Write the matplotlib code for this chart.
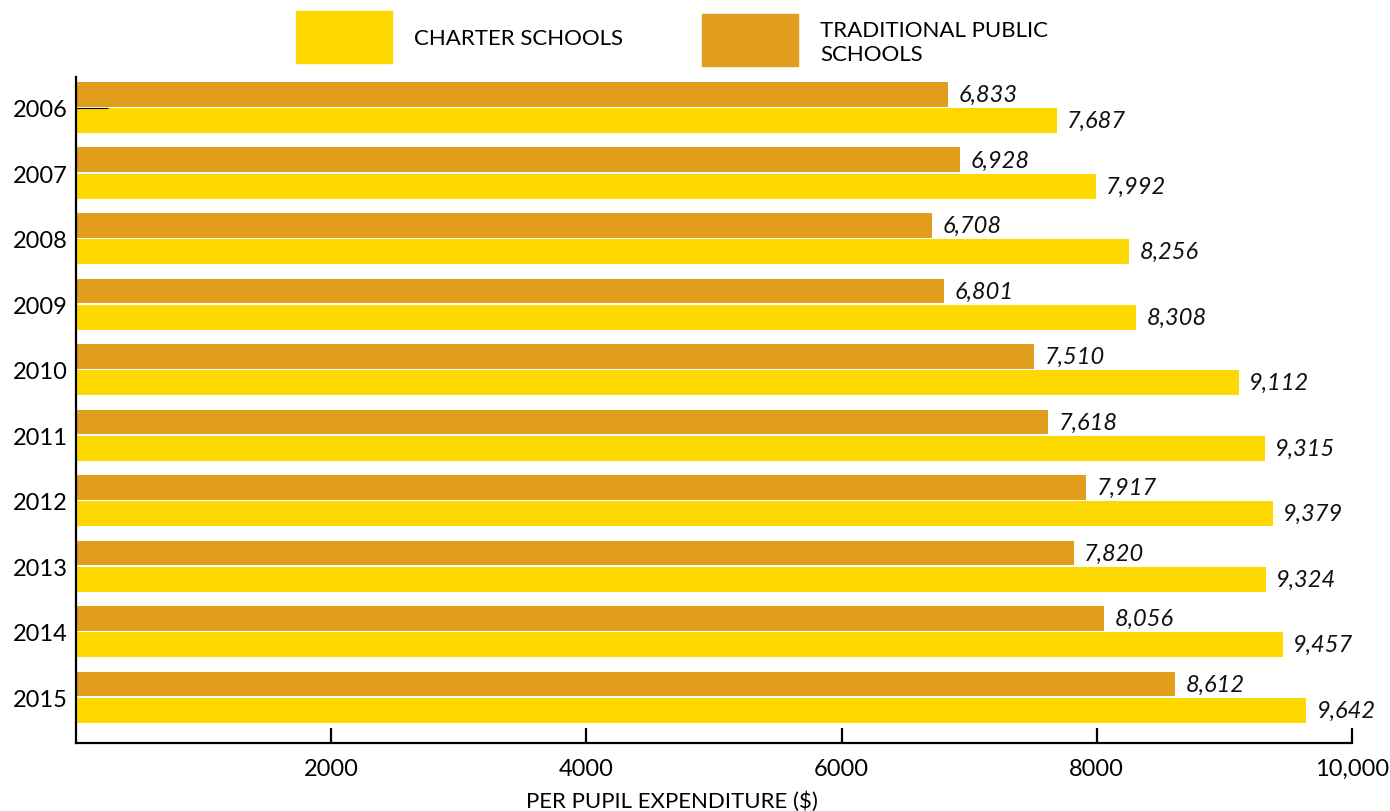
import matplotlib
matplotlib.use("Agg")
import matplotlib.pyplot as plt
from matplotlib.patches import Rectangle
import numpy as np

years = ["2006", "2007", "2008", "2009", "2010", "2011", "2012", "2013", "2014", "2015"]
charter = [7687, 7992, 8256, 8308, 9112, 9315, 9379, 9324, 9457, 9642]
traditional = [6833, 6928, 6708, 6801, 7510, 7618, 7917, 7820, 8056, 8612]
x_ticks = [2000, 4000, 6000, 8000, 10000]
x_tick_labels = ["2000", "4000", "6000", "8000", "10,000"]

YELLOW = "#FDD900"
GOLD = "#E09E1C"
FONT = "Lato"

plt.rcParams["font.family"] = [FONT, "DejaVu Sans"]

fig = plt.figure(figsize=(13.9, 8.12), dpi=100)
W, H = 1390, 812
ax = fig.add_axes([76 / W, 1 - 744 / H, (1352 - 76) / W, (744 - 78) / H])

idx = np.arange(len(years))
bh = 0.38
off = 0.2
ax.barh(idx - off, traditional, height=bh, color=GOLD, edgecolor="none", zorder=2)
ax.barh(idx + off, charter, height=bh, color=YELLOW, edgecolor="none", zorder=2)

for i, (t, c) in enumerate(zip(traditional, charter)):
    ax.annotate(f"{t:,}", (t, i - off), xytext=(7.5, 0), textcoords="offset points",
                ha="left", va="center", fontsize=17, style="italic", color="#111111")
    ax.annotate(f"{c:,}", (c, i + off), xytext=(7.5, 0), textcoords="offset points",
                ha="left", va="center", fontsize=17, style="italic", color="#111111")

# short tick line on the first category
ax.hlines(idx[0], 0, 250, color="black", linewidth=0.8, zorder=3)

ax.set_xlim(0, 10000)
ax.set_ylim(9.70, -0.466)
ax.set_yticks(idx)
ax.set_yticklabels(years, fontsize=17)
ax.set_xticks(x_ticks)
ax.set_xticklabels(x_tick_labels, fontsize=17)
ax.tick_params(axis="y", length=0, pad=6)
ax.tick_params(axis="x", direction="in", length=11, width=1.6, pad=11)

for s in ["top", "right"]:
    ax.spines[s].set_visible(False)
for s in ["left", "bottom"]:
    ax.spines[s].set_linewidth(1.6)

ax.set_xlabel("PER PUPIL EXPENDITURE ($)", fontsize=16)
ax.xaxis.set_label_coords(0.467, -0.086)
ax.xaxis.label.set_va("center")

# legend swatches and labels
fig.patches.append(Rectangle((296 / W, 1 - 64 / H), 96 / W, 52 / H,
                             transform=fig.transFigure, color=YELLOW))
fig.patches.append(Rectangle((702 / W, 1 - 67 / H), 96 / W, 52 / H,
                             transform=fig.transFigure, color=GOLD))
fig.text(414 / W, 1 - 39 / H, "CHARTER SCHOOLS", fontsize=16, va="center", ha="left")
fig.text(820 / W, 1 - 43 / H, "TRADITIONAL PUBLIC\nSCHOOLS", fontsize=16, va="center",
         ha="left", linespacing=1.3)

fig.savefig("out.png", dpi=100)
